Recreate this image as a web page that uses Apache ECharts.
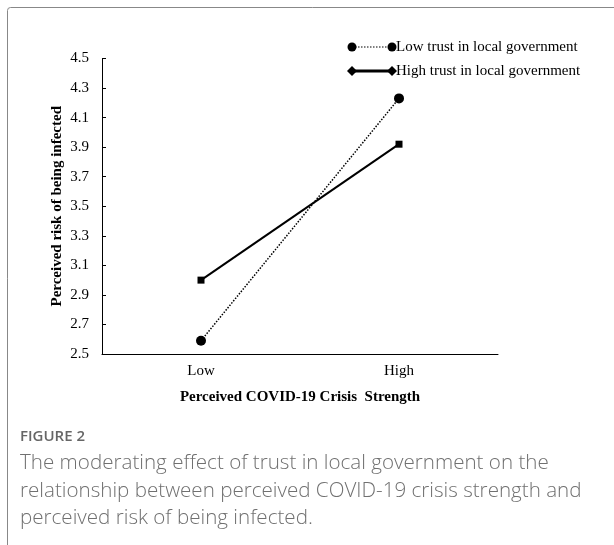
<!DOCTYPE html>
<html><head><meta charset="utf-8">
<script src="https://cdn.jsdelivr.net/npm/echarts@6/dist/echarts.min.js"></script>
<style>html,body{margin:0;padding:0;background:#fff}#c{width:614px;height:545px}</style>
</head><body><div id="c"></div>
<script>
var categories = ['Low', 'High'];
var lowTrust = [2.59, 4.23];
var highTrust = [3.0, 3.92];
var seriesNames = ['Low trust in local government', 'High trust in local government'];
var yTicks = {min: 2.5, max: 4.5, interval: 0.2};

var serif = '"Liberation Serif", "Times New Roman", serif';
var sans = '"Open Sans", "Noto Sans", sans-serif';
var chart = echarts.init(document.getElementById('c'));
var lx1 = 352, lx2 = 392;
chart.setOption({
  animation: false,
  backgroundColor: '#fff',
  grid: {left: 102, right: 116, top: 58.5, bottom: 191},
  xAxis: {
    type: 'category', data: categories, boundaryGap: true,
    axisLine: {lineStyle: {color: '#000', width: 1}},
    axisTick: {inside: true, length: 4, lineStyle: {color: '#000'}},
    axisLabel: {color: '#000', fontFamily: serif, fontSize: 15, margin: 10},
    name: 'Perceived COVID-19 Crisis  Strength', nameLocation: 'middle', nameGap: 36,
    nameTextStyle: {color: '#000', fontFamily: serif, fontSize: 15, fontWeight: 'bold'}
  },
  yAxis: {
    type: 'value', min: yTicks.min, max: yTicks.max, interval: yTicks.interval,
    axisLine: {show: true, lineStyle: {color: '#000', width: 1}},
    axisTick: {show: true, inside: true, length: 4, lineStyle: {color: '#000'}},
    splitLine: {show: false},
    axisLabel: {color: '#000', fontFamily: serif, fontSize: 15, margin: 13,
      formatter: function (v) { return v.toFixed(1); }},
    name: 'Perceived risk of being infected', nameLocation: 'middle', nameGap: 37, nameRotate: 90,
    nameMoveOverlap: false,
    nameTextStyle: {color: '#000', fontFamily: serif, fontSize: 15, fontWeight: 'bold'}
  },
  series: [
    {name: seriesNames[0], type: 'line', data: lowTrust, symbol: 'circle', symbolSize: 10,
     itemStyle: {color: '#000'}, lineStyle: {color: '#000', width: 1.5, type: [1.5, 1.5]}},
    {name: seriesNames[1], type: 'line', data: highTrust, symbol: 'rect', symbolSize: 7,
     itemStyle: {color: '#000'}, lineStyle: {color: '#000', width: 2}}
  ],
  graphic: [
    {type: 'rect', shape: {x: 7.5, y: 7.5, width: 800, height: 800, r: 3}, style: {fill: 'none', stroke: '#888', lineWidth: 1}, silent: true},
    {type: 'line', shape: {x1: lx1, y1: 47, x2: lx2, y2: 47}, style: {stroke: '#000', lineWidth: 1.2, lineDash: [1.5, 1.5]}},
    {type: 'circle', shape: {cx: lx1, cy: 47, r: 4.5}, style: {fill: '#000'}},
    {type: 'circle', shape: {cx: lx2, cy: 47, r: 4.5}, style: {fill: '#000'}},
    {type: 'text', x: 396, y: 47.5, style: {text: seriesNames[0], font: '15px ' + serif, fill: '#000', verticalAlign: 'middle', align: 'left'}},
    {type: 'line', shape: {x1: lx1, y1: 71, x2: lx2, y2: 71}, style: {stroke: '#000', lineWidth: 3}},
    {type: 'polygon', shape: {points: [[lx1 - 5, 71], [lx1, 66], [lx1 + 5, 71], [lx1, 76]]}, style: {fill: '#000'}},
    {type: 'polygon', shape: {points: [[lx2 - 5, 71], [lx2, 66], [lx2 + 5, 71], [lx2, 76]]}, style: {fill: '#000'}},
    {type: 'text', x: 396, y: 71.5, style: {text: seriesNames[1], font: '15px ' + serif, fill: '#000', verticalAlign: 'middle', align: 'left'}},
    {type: 'text', x: 20, y: 437, style: {text: 'FIGURE 2', font: '600 15px ' + sans, fill: '#666', verticalAlign: 'middle'}},
    {type: 'text', x: 20, y: 463, style: {text: 'The moderating effect of trust in local government on the', font: '300 20.6px ' + sans, fill: '#707070', verticalAlign: 'middle'}},
    {type: 'text', x: 20, y: 491, style: {text: 'relationship between perceived COVID-19 crisis strength and', font: '300 20.6px ' + sans, fill: '#707070', verticalAlign: 'middle'}},
    {type: 'text', x: 20, y: 518, style: {text: 'perceived risk of being infected.', font: '300 20.6px ' + sans, fill: '#707070', verticalAlign: 'middle'}}
  ]
});
</script></body></html>
